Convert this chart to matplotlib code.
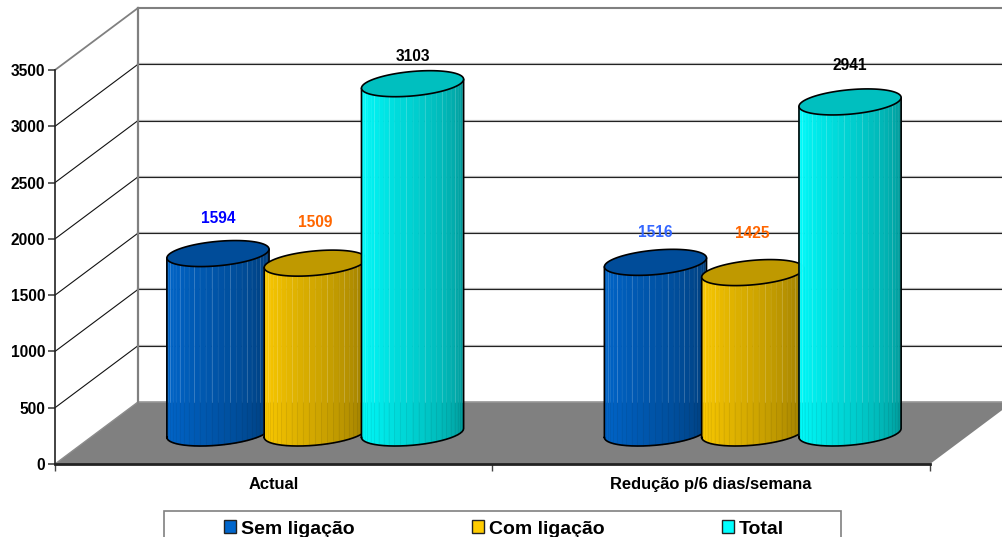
import numpy as np
import matplotlib
matplotlib.use('Agg')
import matplotlib.pyplot as plt
from matplotlib.patches import Polygon, Rectangle

plt.rcParams['font.family'] = ['Liberation Sans', 'DejaVu Sans']

categories = ['Actual', 'Redução p/6 dias/semana']
series_names = ['Sem ligação', 'Com ligação', 'Total']
sem_ligacao = [1594, 1516]
com_ligacao = [1509, 1425]
total = [3103, 2941]
y_ticks = [0, 500, 1000, 1500, 2000, 2500, 3000, 3500]

# side colour, top colour
series_colors = ['#0066CC', '#FFCC00', '#00FFFF']
top_colors = ['#004C99', '#BF9900', '#00BFBF']
label_colors = [['#0000FF', '#FF6600', '#000000'],
                ['#3366FF', '#FF6600', '#000000']]
# label gap above each cylinder top, in points
label_gaps = [[16, 20, 10], [12, 19, 17]]

W, H = 1003, 537
FRONT_LEFT, FRONT_RIGHT, FRONT_BOTTOM, FRONT_TOP = 55, 930, 464, 70

fig = plt.figure(figsize=(W / 100, H / 100), dpi=100, facecolor='white')
ax = fig.add_axes([FRONT_LEFT / W, 1 - FRONT_BOTTOM / H,
                   (FRONT_RIGHT - FRONT_LEFT) / W,
                   (FRONT_BOTTOM - FRONT_TOP) / H])
ax.set_xlim(0, len(categories))
ax.set_ylim(0, y_ticks[-1])
ax.patch.set_visible(False)

# depth of the 3D box, as a shift in data units
DX = 83 / 437.5
DY = 62 * y_ticks[-1] / (FRONT_BOTTOM - FRONT_TOP)
X_MAX = len(categories)
Y_MAX = y_ticks[-1]

# floor
ax.add_patch(Polygon([(0, 0), (X_MAX, 0), (X_MAX + DX, DY), (DX, DY)],
                     facecolor='#808080', edgecolor='none', zorder=1, clip_on=False))
ax.plot([DX, X_MAX + DX], [DY, DY], color='#969696', lw=1.2, zorder=1.1, clip_on=False)
ax.plot([0, DX], [0, DY], color='#8c8c8c', lw=1, zorder=1.1, clip_on=False)

# walls and grid
for v in y_ticks[1:]:
    is_top = v == Y_MAX
    line_color = '#808080' if is_top else '#111111'
    ax.plot([0, DX], [v, v + DY], color=line_color, lw=1.3 if is_top else 0.8,
            zorder=1.2, clip_on=False)
    if is_top:
        ax.plot([DX, X_MAX + DX], [v + DY, v + DY], color='#808080', lw=1.5,
                zorder=1.2, clip_on=False)
    else:
        ax.plot([DX, X_MAX + DX], [v + DY, v + DY], color='#bbbbbb', lw=1.6,
                zorder=1.15, clip_on=False)
        ax.plot([DX, X_MAX + DX], [v + DY, v + DY], color='#222222', lw=0.8,
                zorder=1.2, clip_on=False)
ax.plot([DX, DX], [DY, Y_MAX + DY], color='#808080', lw=1.6, zorder=1.3, clip_on=False)


def shade(color, frac):
    rgb = np.array(matplotlib.colors.to_rgb(color))
    return tuple(rgb * (1 - 0.42 * frac ** 1.2))


def draw_cylinder(center, value, side, top, z):
    """Draw one sheared cylinder standing half way into the box."""
    a = 48 / 437.5
    rx = 0.21 * DX
    ry = 0.21 * DY
    cx = center + 0.5 * DX
    base = 0.5 * DY
    t0 = np.arctan2(rx, a)
    t = np.linspace(t0 + np.pi, t0 + 2 * np.pi, 27)
    px = cx + a * np.cos(t) + rx * np.sin(t)
    py = ry * np.sin(t)

    for i in range(len(t) - 1):
        quad = [(px[i], base + py[i]), (px[i + 1], base + py[i + 1]),
                (px[i + 1], base + value + py[i + 1]), (px[i], base + value + py[i])]
        c = shade(side, i / (len(t) - 2))
        ax.add_patch(Polygon(quad, facecolor=c, edgecolor=c, lw=0.5, zorder=z, clip_on=False))

    # thin facet seams, paler above the floor line
    for i in range(2, len(t) - 2):
        alpha = 0.22 if i % 3 == 0 else 0.08
        split = max(DY, base + py[i])
        ax.plot([px[i], px[i]], [split, base + value + py[i]], color='white', lw=0.6,
                alpha=alpha, zorder=z + 0.1, clip_on=False)
        ax.plot([px[i], px[i]], [base + py[i], split], color='black', lw=0.5,
                alpha=0.07, zorder=z + 0.1, clip_on=False)

    # body outline
    ox = np.r_[px, px[-1], px[0], px[0]]
    oy = np.r_[base + py, base + value + py[-1], base + value + py[0], base + py[0]]
    ax.plot(ox, oy, color='black', lw=1.2, zorder=z + 0.2, clip_on=False)

    # top face
    tt = np.linspace(0, 2 * np.pi, 90)
    ex = cx + a * np.cos(tt) + rx * np.sin(tt)
    ey = base + value + ry * np.sin(tt)
    ax.add_patch(Polygon(np.c_[ex, ey], facecolor=top, edgecolor='black', lw=1.2,
                         zorder=z + 0.3, clip_on=False))
    return cx, base + value + ry


series_values = [sem_ligacao, com_ligacao, total]
bar_step = 97.3 / 437.5
z = 2
for g in range(len(categories)):
    for s, values in enumerate(series_values):
        center = g + 0.5 + (s - 1) * bar_step
        lx, ly = draw_cylinder(center, values[g], series_colors[s], top_colors[s], z)
        ax.annotate(str(values[g]), (lx, ly), xytext=(0, label_gaps[g][s]),
                    textcoords='offset points', ha='center', va='center',
                    fontsize=11.2, fontweight='bold', color=label_colors[g][s],
                    zorder=50, annotation_clip=False)
        z += 1

# axes and tick labels
for name in ['top', 'right']:
    ax.spines[name].set_visible(False)
ax.spines['left'].set_color('#222222')
ax.spines['left'].set_linewidth(1.2)
ax.spines['left'].set_zorder(40)
ax.spines['bottom'].set_color('#222222')
ax.spines['bottom'].set_linewidth(2)
ax.spines['bottom'].set_zorder(40)
ax.set_yticks(y_ticks)
ax.set_yticklabels([str(v) for v in y_ticks], fontsize=11.2, fontweight='bold')
ax.tick_params(axis='y', length=5, width=1.2, color='#444444', pad=2)
ax.set_xticks(range(len(categories) + 1))
ax.set_xticklabels([])
ax.tick_params(axis='x', which='major', length=5, width=1, color='#444444')
ax.set_xticks([i + 0.5 for i in range(len(categories))], minor=True)
ax.set_xticklabels(categories, minor=True, fontsize=11.9, fontweight='bold')
ax.tick_params(axis='x', which='minor', length=0, pad=9.5)

# legend box runs off the bottom edge
def px_x(x):
    return x / W


def px_y(y):
    return 1 - y / H


fig.add_artist(Rectangle((px_x(164), px_y(540)), (841 - 164) / W, (540 - 511) / H,
                         transform=fig.transFigure, facecolor='white',
                         edgecolor='#808080', lw=1.2))
legend_x = [224, 472, 722]
for name, color, x in zip(series_names, series_colors, legend_x):
    fig.add_artist(Rectangle((px_x(x), px_y(533)), 12 / W, 13 / H,
                             transform=fig.transFigure, facecolor=color,
                             edgecolor='#222222', lw=1))
    fig.text(px_x(x + 17), px_y(533.5), name, fontsize=14, fontweight='bold',
             ha='left', va='baseline', color='black')

fig.savefig('out.png', dpi=100)
